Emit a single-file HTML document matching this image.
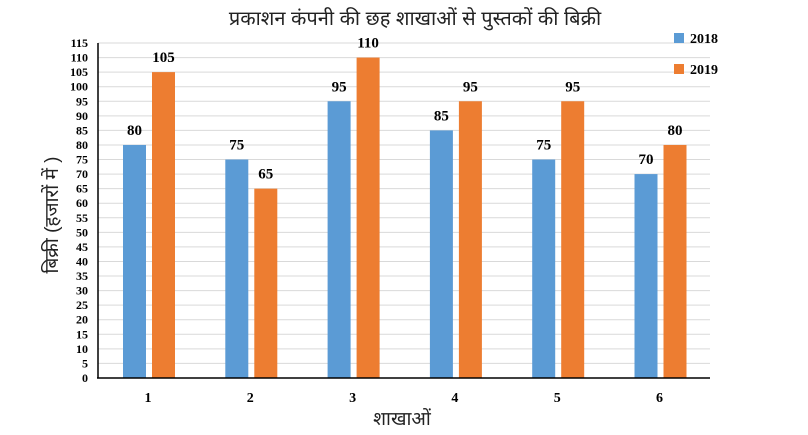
<!DOCTYPE html>
<html><head><meta charset="utf-8"><style>
body{margin:0;background:#fff;}
svg{display:block;font-family:"Liberation Serif","Noto Serif CJK SC",serif;}
.hi{font-family:"Liberation Sans","Noto Sans CJK SC",sans-serif;}
</style></head><body>
<svg id="chart" width="808" height="435">
<text class="hi" x="415" y="25" font-size="20" text-anchor="middle" fill="#222">प्रकाशन कंपनी की छह शाखाओं से पुस्तकों की बिक्री</text>
<g id="grid"></g><g id="bars"></g>
<line x1="98" y1="43" x2="98" y2="378" stroke="#000" stroke-width="1.5"/>
<line x1="97" y1="378" x2="710" y2="378" stroke="#000" stroke-width="1.5"/>
<text class="hi" transform="translate(58,215) rotate(-90)" font-size="19" text-anchor="middle" fill="#222">बिक्री (हजारों में )</text>
<text class="hi" x="402" y="425" font-size="19" text-anchor="middle" fill="#222">शाखाओं</text>
<g><rect x="674" y="33" width="10" height="10" fill="#5b9bd5"/><text x="690" y="43" font-size="14" font-weight="bold">2018</text></g>
<g><rect x="674" y="64" width="10" height="10" fill="#ed7d31"/><text x="690" y="74" font-size="14" font-weight="bold">2019</text></g>
</svg>
<script>
const categories=["1","2","3","4","5","6"];
const s2018=[80,75,95,85,75,70];
const s2019=[105,65,110,95,95,80];
const yTicks=[0,5,10,15,20,25,30,35,40,45,50,55,60,65,70,75,80,85,90,95,100,105,110,115];
const NS="http://www.w3.org/2000/svg";
const y=v=>378-v*(335/115);
const xc=i=>148+i*102.3;
const grid=document.getElementById('grid'),bars=document.getElementById('bars');
function mk(tag,attrs,parent,txt){const e=document.createElementNS(NS,tag);for(const k in attrs)e.setAttribute(k,attrs[k]);if(txt!==undefined)e.textContent=txt;parent.appendChild(e);return e;}
yTicks.forEach(t=>{
 const l=mk('line',{x1:98,x2:710,y1:y(t),y2:y(t),stroke:'#d9d9d9','stroke-width':1},grid);
 
 
 const tx=mk('text',{x:88,y:y(t)+4,'font-size':12,'font-weight':'bold','text-anchor':'end'},grid,t);
 
 
});
categories.forEach((c,i)=>{
 const cx=xc(i);
 const b1=mk('rect',{x:cx-25,y:y(s2018[i]),width:23,height:378-y(s2018[i]),fill:'#5b9bd5'},bars);
 
 
 const b2=mk('rect',{x:cx+4,y:y(s2019[i]),width:23,height:378-y(s2019[i]),fill:'#ed7d31'},bars);
 
 
 const l1=mk('text',{x:cx-13.5,y:y(s2018[i])-10,'font-size':15,'font-weight':'bold','text-anchor':'middle'},bars,s2018[i]);
 
 
 const l2=mk('text',{x:cx+15.5,y:y(s2019[i])-10,'font-size':15,'font-weight':'bold','text-anchor':'middle'},bars,s2019[i]);
 
 
 const xl=mk('text',{x:cx,y:402,'font-size':14,'font-weight':'bold','text-anchor':'middle'},bars,c);
 
 
});
</script>
</body></html>
